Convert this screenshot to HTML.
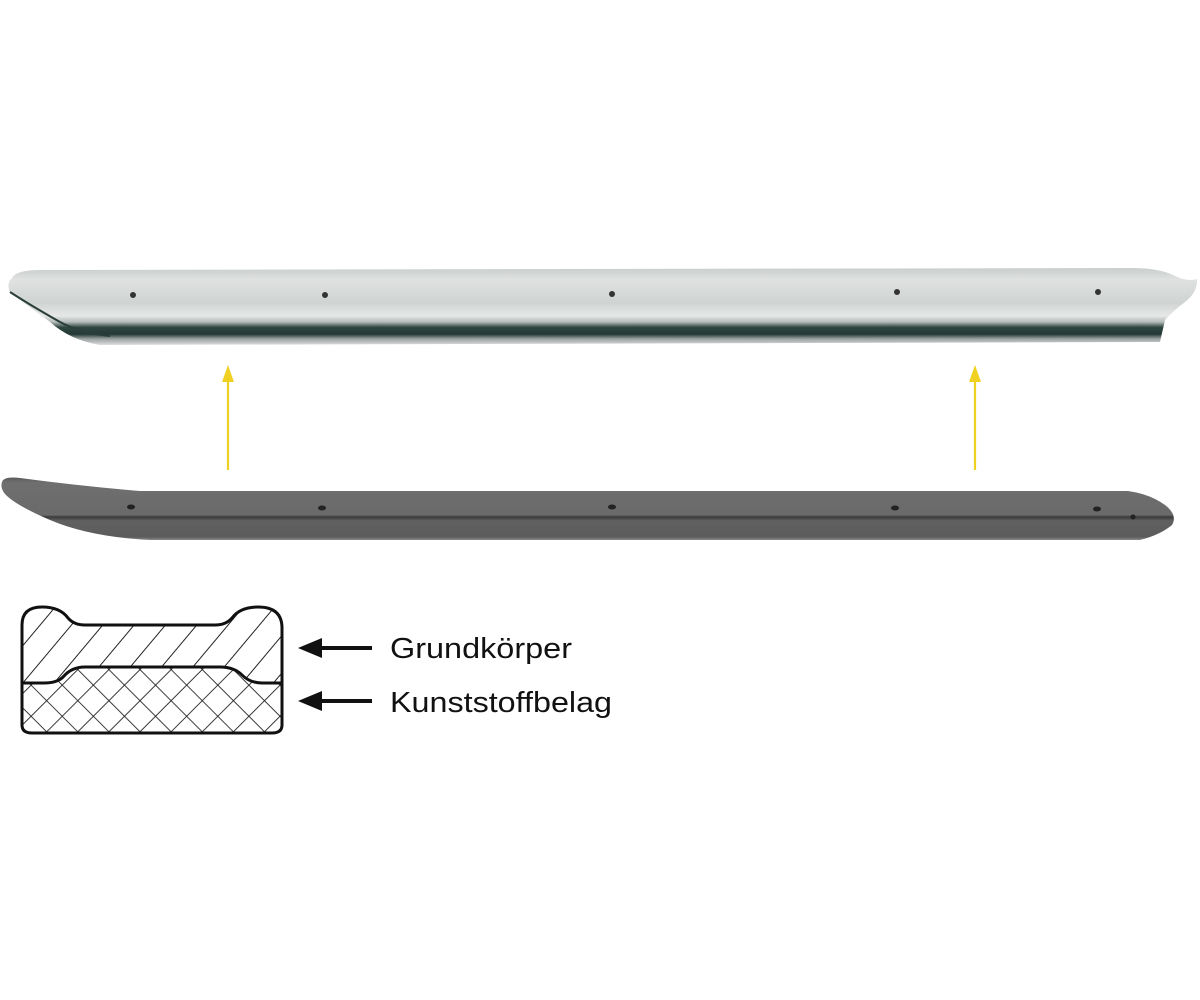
<!DOCTYPE html>
<html><head><meta charset="utf-8"><style>html,body{margin:0;padding:0;background:#fff}svg{display:block}</style></head>
<body>
<svg width="1200" height="1000" viewBox="0 0 1200 1000" xmlns="http://www.w3.org/2000/svg">
<defs>
<linearGradient id="silver" x1="0" y1="0" x2="0" y2="1">
<stop offset="0" stop-color="#c9cdcc"/><stop offset="0.15" stop-color="#dfe2e1"/><stop offset="0.45" stop-color="#cfd3d2"/><stop offset="0.62" stop-color="#e6e8e7"/><stop offset="0.7" stop-color="#b5bcba"/><stop offset="0.77" stop-color="#2e4540"/><stop offset="0.86" stop-color="#243a36"/><stop offset="0.92" stop-color="#9aa2a0"/><stop offset="1" stop-color="#dcdfde"/>
</linearGradient>
<linearGradient id="grey" x1="0" y1="0" x2="0" y2="1">
<stop offset="0" stop-color="#5a5a5a"/><stop offset="0.08" stop-color="#6f6f6f"/><stop offset="0.6" stop-color="#6a6a6a"/><stop offset="0.63" stop-color="#3a3a3a"/><stop offset="0.69" stop-color="#606060"/><stop offset="0.95" stop-color="#5c5c5c"/><stop offset="1" stop-color="#8a8a8a"/>
</linearGradient>
<pattern id="diag" width="24" height="24" patternUnits="userSpaceOnUse" patternTransform="rotate(40)">
<line x1="0" y1="0" x2="0" y2="24" stroke="#222" stroke-width="2"/>
</pattern>
<pattern id="cross" width="22" height="22" patternUnits="userSpaceOnUse" patternTransform="rotate(45)">
<line x1="0" y1="0" x2="0" y2="22" stroke="#222" stroke-width="1.8"/>
<line x1="0" y1="0" x2="22" y2="0" stroke="#222" stroke-width="1.8"/>
</pattern>
<clipPath id="topc"><path d="M22 625 Q22 607 42 607 Q60 607 68 618 Q74 625 85 625 L215 625 Q226 625 232 618 Q240 607 258 607 Q282 607 282 628 L282 683 Q270 683 262 683 Q250 683 242 675 Q234 667 220 667 L85 667 Q72 667 64 676 Q58 683 44 683 L22 683 Z"/></clipPath>
<clipPath id="botc"><path d="M22 683 L44 683 Q58 683 64 676 Q72 667 85 667 L220 667 Q234 667 242 675 Q250 683 262 683 L282 683 L282 725 Q282 733 272 733 L32 733 Q22 733 22 725 Z"/></clipPath>
</defs>

<!-- top bar -->
<path d="M12 278 Q16 270 40 270 L1130 268 Q1160 268 1175 276 Q1188 282 1197 279 Q1198 292 1185 302 Q1172 312 1165 320 L1160 342 L100 345 Q70 340 50 322 Q20 300 10 292 Q6 284 12 278 Z" fill="url(#silver)"/>
<path d="M10 292 Q30 305 60 322 Q80 333 110 336" fill="none" stroke="#2a3e3a" stroke-width="2"/>
<g fill="#333">
<circle cx="133" cy="295" r="3"/><circle cx="325" cy="295" r="3"/><circle cx="612" cy="294" r="3"/><circle cx="897" cy="292" r="3"/><circle cx="1098" cy="292" r="3"/>
</g>

<!-- bottom bar -->
<path d="M2 482 Q4 476 20 478 Q80 486 140 491 L1128 491 Q1150 494 1165 505 Q1178 515 1172 525 Q1160 535 1140 540 L150 540 Q90 537 50 520 Q15 505 5 494 Q0 488 2 482 Z" fill="url(#grey)"/>
<g fill="#222">
<ellipse cx="131" cy="507" rx="4" ry="2.5"/><ellipse cx="322" cy="508" rx="4" ry="2.5"/><ellipse cx="612" cy="507" rx="4" ry="2.5"/><ellipse cx="895" cy="508" rx="4" ry="2.5"/><ellipse cx="1097" cy="509" rx="4" ry="2.5"/><circle cx="1133" cy="517" r="2.5"/>
</g>

<!-- yellow arrows -->
<g stroke="#f0d020" stroke-width="2.2" fill="#f0d020">
<line x1="228" y1="470" x2="228" y2="378"/><path d="M222 382 L228 365 L234 382 Z" stroke="none"/>
<line x1="975" y1="470" x2="975" y2="378"/><path d="M969 382 L975 365 L981 382 Z" stroke="none"/>
</g>

<!-- cross section -->
<rect x="0" y="600" width="300" height="140" fill="url(#diag)" clip-path="url(#topc)"/>
<rect x="0" y="600" width="300" height="140" fill="url(#cross)" clip-path="url(#botc)"/>
<path d="M22 625 Q22 607 42 607 Q60 607 68 618 Q74 625 85 625 L215 625 Q226 625 232 618 Q240 607 258 607 Q282 607 282 628 L282 725 Q282 733 272 733 L32 733 Q22 733 22 725 Z" fill="none" stroke="#111" stroke-width="3"/>
<path d="M22 683 L44 683 Q58 683 64 676 Q72 667 85 667 L220 667 Q234 667 242 675 Q250 683 262 683 L282 683" fill="none" stroke="#111" stroke-width="3"/>

<!-- label arrows -->
<g fill="#111" stroke="#111">
<line x1="318" y1="648" x2="372" y2="648" stroke-width="4"/><path d="M298 648 L322 638 L322 658 Z" stroke="none"/>
<line x1="318" y1="701" x2="372" y2="701" stroke-width="4"/><path d="M298 701 L322 691 L322 711 Z" stroke="none"/>
</g>
<text x="390" y="658" font-family="Liberation Sans, sans-serif" font-size="29" fill="#111" textLength="182" lengthAdjust="spacingAndGlyphs">Grundkörper</text>
<text x="390" y="712" font-family="Liberation Sans, sans-serif" font-size="29" fill="#111" textLength="222" lengthAdjust="spacingAndGlyphs">Kunststoffbelag</text>
</svg>
</body></html>
